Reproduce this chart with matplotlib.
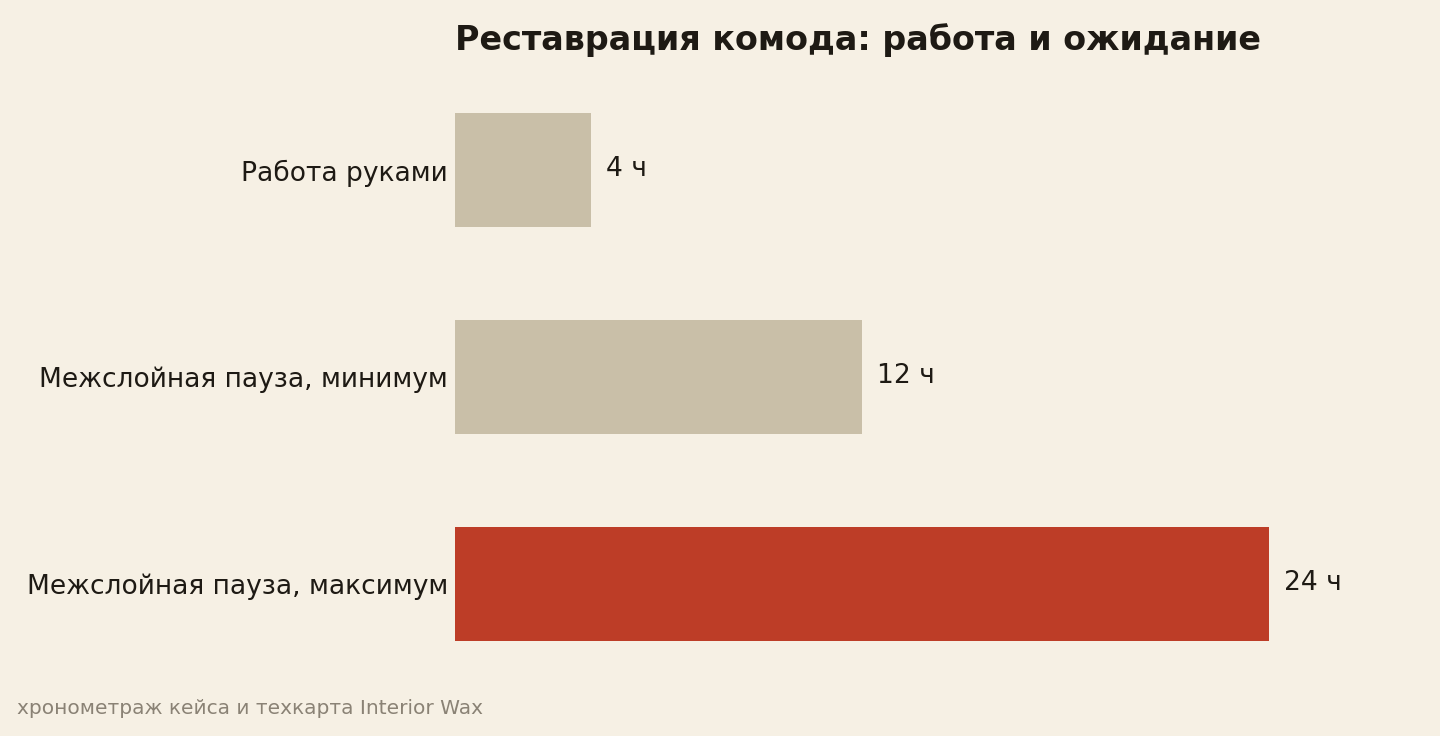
import matplotlib
matplotlib.use('Agg')
import matplotlib.pyplot as plt

plt.rcParams['font.family'] = ['DejaVu Sans']

categories = ['Работа руками', 'Межслойная пауза, минимум', 'Межслойная пауза, максимум']
hours = [4, 12, 24]
value_labels = ['4 ч', '12 ч', '24 ч']
bar_colors = ['#C9BFA8', '#C9BFA8', '#BD3D27']

bg = '#F6F0E4'
ink = '#1E1A14'

fig = plt.figure(figsize=(14.4, 7.36), dpi=100, facecolor=bg)
ax = fig.add_axes([455 / 1440, 48.5 / 736, 936 / 1440, 621 / 736])
ax.set_facecolor(bg)

ypos = list(range(len(categories)))
ax.barh(ypos, hours, height=0.55, color=bar_colors)
ax.set_xlim(0, 27.6)
ax.set_ylim(2.5, -0.5)

ax.set_yticks(ypos)
ax.set_yticklabels(categories, fontsize=19.1, color=ink)
ax.tick_params(axis='y', length=0, pad=5)
ax.set_xticks([])
for s in ax.spines.values():
    s.set_visible(False)

for y, v, lab in zip(ypos, hours, value_labels):
    ax.annotate(lab, (v, y), xytext=(15, 1), textcoords='offset pixels',
                va='center', ha='left', fontsize=19.1, color=ink)

fig.text(455 / 1440, 1 - 40 / 736, 'Реставрация комода: работа и ожидание',
         fontsize=24, fontweight='bold', color=ink, ha='left', va='center')
fig.text(17 / 1440, 1 - 708 / 736, 'хронометраж кейса и техкарта Interior Wax',
         fontsize=14.5, color='#8A8275', ha='left', va='center')

fig.savefig('out.png', dpi=100, facecolor=bg)
